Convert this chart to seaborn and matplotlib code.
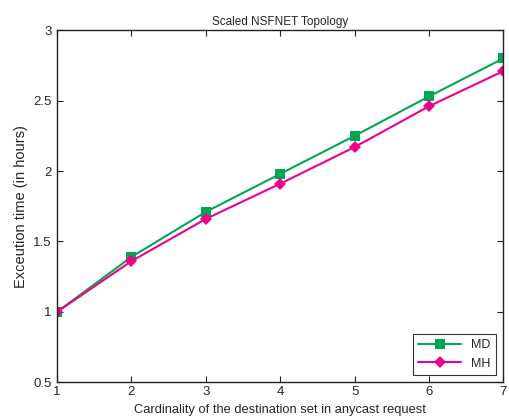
import matplotlib
matplotlib.use("Agg")
import matplotlib.pyplot as plt
import seaborn as sns
import pandas as pd

# data
cardinality = [1, 2, 3, 4, 5, 6, 7]
md_hours = [1.00, 1.39, 1.71, 1.98, 2.25, 2.53, 2.80]
mh_hours = [1.00, 1.36, 1.66, 1.91, 2.17, 2.46, 2.71]

df = pd.DataFrame({
    "x": cardinality * 2,
    "y": md_hours + mh_hours,
    "method": ["MD"] * len(cardinality) + ["MH"] * len(cardinality),
})

sns.set_style("ticks")
plt.rcParams["font.family"] = ["Liberation Sans", "DejaVu Sans"]

fig = plt.figure(figsize=(5.1, 4.2), dpi=100)
ax = fig.add_axes([0.112, 0.09, 0.875, 0.838])

sns.lineplot(data=df, x="x", y="y", hue="method", style="method",
             palette={"MD": "#00a651", "MH": "#ec008c"},
             markers={"MD": "s", "MH": "D"}, dashes=False,
             markersize=6.5, markeredgewidth=0, linewidth=1.5, ax=ax)

ax.set_xlim(1, 7)
ax.set_ylim(0.5, 3)
ax.set_xticks(cardinality)
ax.set_yticks([0.5, 1, 1.5, 2, 2.5, 3])
ax.set_yticklabels(["0.5", "1", "1.5", "2", "2.5", "3"])
ax.tick_params(direction="in", length=4, labelsize=9.5, top=True, right=True,
               color="#222222")
ax.tick_params(axis="x", pad=3)
ax.tick_params(axis="y", pad=4)
for s in ax.spines.values():
    s.set_linewidth(1.0)
    s.set_color("#222222")

ax.set_xlabel("Cardinality of the destination set in anycast request", fontsize=9.3, labelpad=4)
ax.set_ylabel("Exceution time (in hours)", fontsize=10.5, labelpad=4)
ax.set_title("Scaled NSFNET Topology", fontsize=8.5, pad=4)

leg = ax.legend(loc="lower right", fontsize=9, frameon=True, fancybox=False,
                edgecolor="black", handlelength=3.5, borderaxespad=0.6)
leg.get_frame().set_linewidth(0.8)

fig.savefig("out.png", dpi=100)
